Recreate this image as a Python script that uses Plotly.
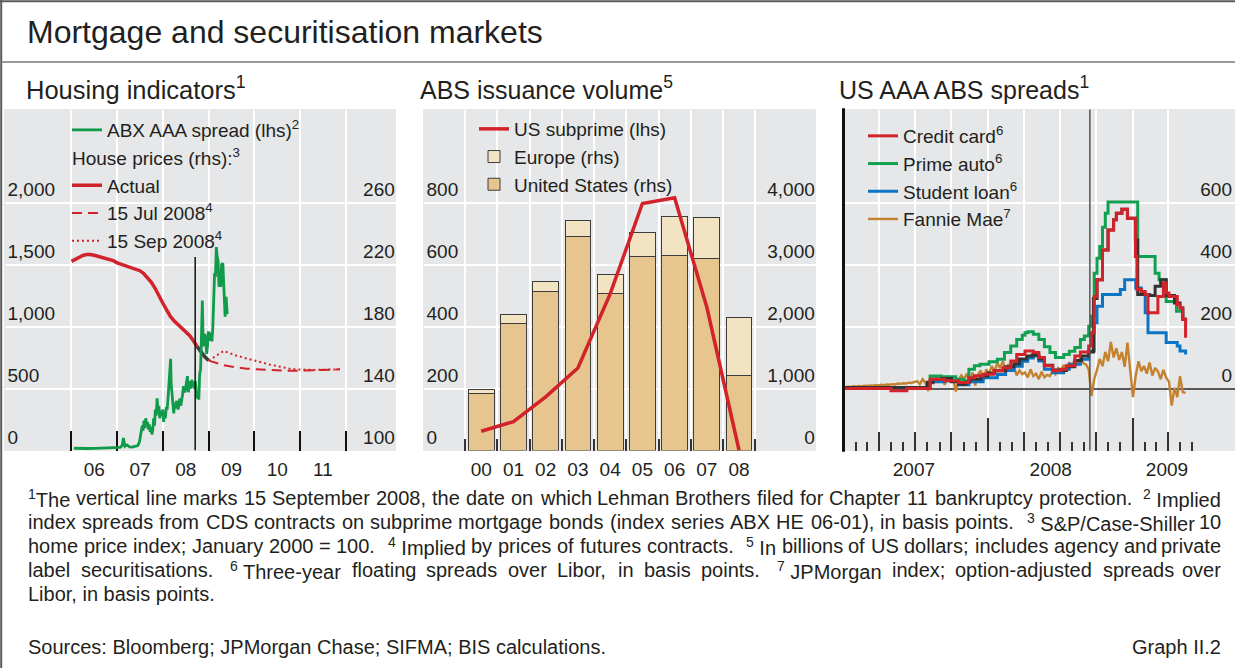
import plotly.graph_objects as go
import pandas as pd

W, H = 1235, 668
FONT = "Liberation Sans"
TXT = "#231f20"
BG = "#e6e7e8"


def fx(p):
    return p / W


def fy(p):
    return 1 - p / H


# ---------------- Panel 1: Housing indicators ----------------
abx_dates = [
    "2006-01-20", "2006-03-01", "2006-05-01", "2006-07-01", "2006-09-01", "2006-11-01",
    "2007-01-02", "2007-01-25", "2007-02-10", "2007-02-20", "2007-02-27", "2007-03-05",
    "2007-03-20", "2007-04-10", "2007-05-01", "2007-05-25", "2007-06-15", "2007-06-28",
    "2007-07-05", "2007-07-12", "2007-07-20", "2007-07-27", "2007-08-03", "2007-08-10",
    "2007-08-17", "2007-08-24", "2007-08-31", "2007-09-07", "2007-09-14", "2007-09-21",
    "2007-09-28", "2007-10-05", "2007-10-12", "2007-10-19", "2007-10-26", "2007-11-02",
    "2007-11-09", "2007-11-16", "2007-11-23", "2007-11-30", "2007-12-07", "2007-12-14",
    "2007-12-21", "2007-12-31", "2008-01-07", "2008-01-14", "2008-01-21", "2008-01-28",
    "2008-02-04", "2008-02-11", "2008-02-18", "2008-02-25", "2008-03-03", "2008-03-07",
    "2008-03-14", "2008-03-21", "2008-03-28", "2008-04-04", "2008-04-11", "2008-04-18",
    "2008-04-25", "2008-05-02", "2008-05-09", "2008-05-16", "2008-05-23", "2008-05-30",
    "2008-06-06", "2008-06-13", "2008-06-20", "2008-06-27", "2008-07-04", "2008-07-11",
    "2008-07-15", "2008-07-22", "2008-07-29", "2008-08-05", "2008-08-12", "2008-08-19",
    "2008-08-26", "2008-09-02", "2008-09-09", "2008-09-16", "2008-09-23", "2008-09-30",
    "2008-10-07", "2008-10-14", "2008-10-21", "2008-10-28", "2008-11-04", "2008-11-11",
    "2008-11-18", "2008-11-25", "2008-12-02", "2008-12-09", "2008-12-16", "2008-12-23",
    "2008-12-30", "2009-01-06", "2009-01-13", "2009-01-20", "2009-01-27", "2009-02-03",
    "2009-02-10", "2009-02-17", "2009-02-24", "2009-03-03", "2009-03-10", "2009-03-17",
    "2009-03-24", "2009-03-31", "2009-04-07", "2009-04-14", "2009-04-24", "2009-05-05",
    "2009-05-12", "2009-05-20", "2009-05-29",
]
abx_values = [
    18, 15, 16, 17, 18, 18,
    20, 25, 40, 100, 60, 35,
    45, 30, 28, 35, 40, 70,
    110, 150, 200, 160, 240, 180,
    260, 200, 230, 170, 210, 150,
    190, 130, 160, 260, 200, 330,
    280, 420, 300, 360, 260, 320,
    280, 330, 230, 300, 260, 350,
    330, 420, 520, 600, 740, 540,
    450, 330, 300, 380, 340, 400,
    350, 330, 380, 420, 360, 400,
    450, 520, 470, 480, 520, 560,
    600, 470, 520, 560, 500, 570,
    520, 540, 500, 560, 480, 420,
    460, 410, 620, 650, 900, 1210,
    840, 900, 940, 880, 780, 850,
    960, 900, 890, 950, 880, 1000,
    1200, 1430, 1400, 1640, 1560, 1530,
    1320, 1450, 1320, 1500, 1510, 1210,
    1080, 1240, 1100,
]
hp_actual = [
    222.0, 223.5, 224.8, 225.8, 226.4, 226.5, 226.0, 225.4, 224.8, 224.2, 223.6, 222.5,
    221.1, 220.3, 219.5, 218.9, 218.0, 217.2, 216.0, 214.2, 211.5, 208.5, 204.5, 199.5,
    195.0, 190.5, 186.5, 183.5, 181.2, 179.5, 177.0, 174.2, 170.8, 167.0, 163.5, 160.5,
    158.0,
]
hp_dates = pd.date_range("2006-01-01", periods=len(hp_actual), freq="MS")
hp_dark_from = 33  # last months of the actual series are drawn darker in the original
fut_dates = ["2009-01-01", "2009-05-01", "2009-08-01", "2009-11-01",
             "2010-05-01", "2010-11-01", "2011-05-01", "2011-11-15"]
fut_jul08 = [158.0, 155.0, 153.8, 152.8, 152.0, 151.4, 151.8, 152.4]
fut_sep08 = [158.0, 164.2, 161.5, 159.3, 155.5, 152.4, 152.0, 152.4]
lehman_date = "2008-09-15"
lehman_top_p1 = 1560

p1_label_pos = ["2006-07-02", "2007-07-02", "2008-07-02", "2009-07-02", "2010-07-02", "2011-07-02"]
p1_labels = ["06", "07", "08", "09", "10", "11"]
p1_year_ticks = ["2006-01-01", "2007-01-01", "2008-01-01", "2009-01-01",
                 "2010-01-01", "2011-01-01", "2012-01-01"]
p1_lhs_ticks = [0, 500, 1000, 1500, 2000]
p1_rhs_ticks = [100, 140, 180, 220, 260]

# ---------------- Panel 2: ABS issuance volume ----------------
p2_years = ["00", "01", "02", "03", "04", "05", "06", "07", "08"]
us_subprime = [62, 93, 173, 266, 505, 797, 815, 462, 0]
abs_us = [920, 2044, 2568, 3451, 2525, 3135, 3146, 3093, 1204]
abs_europe = [70, 144, 161, 262, 316, 385, 626, 658, 942]
p2_lhs_ticks = [0, 200, 400, 600, 800]
p2_rhs_ticks = [0, 1000, 2000, 3000, 4000]

# ---------------- Panel 3: US AAA ABS spreads ----------------
cc_dates = ["2007-01-01", "2007-05-01", "2007-06-10", "2007-08-08", "2007-09-14", "2007-10-19",
            "2007-11-14", "2007-11-28", "2007-12-20", "2008-01-16", "2008-02-08", "2008-02-28",
            "2008-03-14", "2008-04-04", "2008-04-25", "2008-05-09", "2008-05-23", "2008-06-13",
            "2008-07-04", "2008-07-18", "2008-08-08", "2008-08-22", "2008-09-12", "2008-09-19",
            "2008-09-26", "2008-10-03", "2008-10-17", "2008-10-31", "2008-11-14", "2008-11-21",
            "2008-12-05", "2008-12-19", "2009-01-08", "2009-01-12", "2009-01-23", "2009-02-02",
            "2009-02-09", "2009-03-06", "2009-03-20", "2009-03-27", "2009-04-03", "2009-04-24",
            "2009-05-01", "2009-05-08", "2009-05-15"]
credit_card = [0, -7, 0, 30, 25, 19,
               35, 41, 46, 57, 67, 89,
               110, 121, 116, 100, 73, 57,
               62, 73, 105, 118, 137, 180,
               297, 351, 447, 511, 544, 565,
               578, 549, 426, 319, 313, 303,
               244, 297, 340, 308, 297, 271,
               260, 223, 164]

pa_dates = ["2007-01-01", "2007-08-08", "2007-09-05", "2007-10-12", "2007-10-31", "2007-11-14",
            "2007-11-28", "2007-12-12", "2008-01-04", "2008-01-25", "2008-02-12", "2008-02-28",
            "2008-03-14", "2008-03-28", "2008-04-04", "2008-04-11", "2008-04-25", "2008-05-09",
            "2008-05-23", "2008-06-06", "2008-06-20", "2008-07-11", "2008-07-25", "2008-08-08",
            "2008-08-22", "2008-09-01", "2008-09-12", "2008-09-19", "2008-09-26", "2008-10-03",
            "2008-10-10", "2008-10-17", "2008-10-24", "2008-10-31", "2009-01-14", "2009-02-27",
            "2009-03-09", "2009-03-27", "2009-04-22", "2009-05-08", "2009-05-15"]
prime_auto = [3, 40, 38, 30, 25, 62,
              73, 78, 86, 94, 116, 137,
              158, 172, 180, 183, 175, 158,
              135, 116, 100, 110, 120, 132,
              158, 169, 201, 233, 372, 420,
              458, 520, 565, 602, 426, 372,
              351, 281, 249, 223, 223]

sl_dates = ["2007-01-01", "2007-08-08", "2007-09-14", "2007-10-19", "2007-11-14", "2007-12-20",
            "2008-01-25", "2008-02-15", "2008-03-07", "2008-03-28", "2008-04-11", "2008-04-25",
            "2008-05-09", "2008-05-23", "2008-06-13", "2008-07-11", "2008-07-25", "2008-08-22",
            "2008-09-12", "2008-09-26", "2008-10-03", "2008-10-17", "2008-12-01", "2008-12-12",
            "2009-01-09", "2009-01-23", "2009-02-02", "2009-02-09", "2009-03-27", "2009-04-24",
            "2009-05-01", "2009-05-15"]
student_loan = [0, 22, 25, 12, 22, 35,
                45, 58, 72, 88, 98, 105,
                89, 62, 51, 62, 78, 94,
                121, 212, 265, 303, 319, 351,
                324, 303, 244, 180, 148, 137,
                121, 110]

bk_dates = ["2007-01-01", "2007-07-25", "2007-08-01", "2007-08-15", "2007-09-07", "2007-10-01",
            "2007-10-19", "2007-11-07", "2007-11-16", "2007-12-14", "2008-01-01", "2008-01-18",
            "2008-02-15", "2008-03-07", "2008-03-21", "2008-04-08", "2008-04-22", "2008-05-09",
            "2008-05-23", "2008-06-13", "2008-07-01", "2008-07-18", "2008-08-08", "2008-08-25",
            "2008-09-12", "2008-09-24", "2008-10-03", "2008-10-17", "2008-10-31", "2008-11-14",
            "2008-11-21", "2008-12-05", "2008-12-19", "2009-01-08", "2009-01-14", "2009-02-13",
            "2009-02-27", "2009-03-13", "2009-03-27", "2009-04-17", "2009-05-01", "2009-05-08",
            "2009-05-15"]
other_abs = [3, 3, 20, 30, 32, 22,
             14, 20, 30, 40, 50, 57,
             70, 80, 95, 105, 108, 95,
             75, 60, 58, 70, 90, 105,
             118, 290, 351, 447, 511, 544,
             565, 578, 549, 479, 303, 300,
             330, 351, 300, 276, 260, 223,
             215]

fannie_mae = [
    4, 6, 5, 7, 6, 8, 7, 9, 8, 10, 9, 11, 10, 12, 11, 13, 12, 14, 13, 16, 15,
    17, 16, 19, 18, 21, 24, 14, 30, 18, -8, 32, 15, 36, 22, 30, 12, 38, 20,
    34, -10, 28, 42, 30, 48, 18, 52, 10, 45, 58, 28, 62,
    48, 72, 55, 82, 66, 88, 58, 78, 62, 70, 42, 58, 46, 52, 36, 62, 40,
    48, 30, 54, 36, 44, 40, 58, 46, 66, 58, 76, 62, 84, 72, 94, 78, 96, 82,
    78, 62, -24, 30, 60, 95, 72, 118, 88, 150, 100, 130, 92, 118, 70, 148, 60,
    -28, 42, 88, 56, 72, 48, 84, 42, 66, 55, 30, 60, 35, 22, -55, 2, -28,
    40, -12, -14,
]
fannie_dates = pd.date_range("2007-01-05", periods=len(fannie_mae), freq="7D")

p3_label_pos = ["2007-06-28", "2008-06-08", "2009-03-29"]
p3_labels = ["2007", "2008", "2009"]
p3_quarters = ["2007-04-01", "2007-07-01", "2007-10-01", "2008-01-01", "2008-04-01",
               "2008-07-01", "2008-10-01", "2009-01-01", "2009-04-01"]
p3_years = ["2008-01-01", "2009-01-01"]
p3_months = [d.strftime("%Y-%m-%d") for d in pd.date_range("2007-02-01", "2009-06-01", freq="MS")]
p3_ticks = [0, 200, 400, 600]

# ---------------- Footnotes (justified lines; "|" marks a footnote break) ----------------
footnote_lines = [
    "^1The vertical line marks 15 September 2008, the date on which Lehman Brothers filed for Chapter 11 bankruptcy protection. | ^2 Implied",
    "index spreads from CDS contracts on subprime mortgage bonds (index series ABX HE 06-01), in basis points. | ^3 S&P/Case-Shiller 10",
    "home price index; January 2000 = 100. | ^4 Implied by prices of futures contracts. | ^5 In billions of US dollars; includes agency and private",
    "label securitisations. | ^6 Three-year floating spreads over Libor, in basis points. | ^7 JPMorgan index; option-adjusted spreads over",
]
footnote_last = "Libor, in basis points."
sources = "Sources: Bloomberg; JPMorgan Chase; SIFMA; BIS calculations."
graph_no = "Graph II.2"

# ---------------- geometry (px) ----------------
P_TOP, P_BOT = 109.5, 450.5
p1_x = (4.5, 395.5)
p2_x = (423.5, 815.5)
p3_x = (843.5, 1235)
ydom = [fy(P_BOT), fy(P_TOP)]

fig = go.Figure()

# Panel 1 traces
fig.add_trace(go.Scatter(x=abx_dates, y=abx_values, mode="lines", name="ABX AAA spread (lhs)<sup>2</sup>",
                         line=dict(color="#0f9b4a", width=2.8), xaxis="x", yaxis="y2",
                         legend="legend", legendgroup="abx", legendrank=1))
fig.add_trace(go.Scatter(x=hp_dates[:hp_dark_from + 1], y=hp_actual[:hp_dark_from + 1], mode="lines",
                         name="Actual",
                         line=dict(color="#d2232a", width=3.5), xaxis="x", yaxis="y",
                         legend="legend", legendgroup="hp", legendrank=2,
                         legendgrouptitle=dict(text="House prices (rhs):<sup>3</sup>",
                                               font=dict(size=19, color=TXT, family=FONT))))
fig.add_trace(go.Scatter(x=hp_dates[hp_dark_from:], y=hp_actual[hp_dark_from:], mode="lines",
                         showlegend=False, line=dict(color="#3a3a3a", width=3.5),
                         xaxis="x", yaxis="y"))
fig.add_trace(go.Scatter(x=fut_dates, y=fut_jul08, mode="lines", name="15 Jul 2008<sup>4</sup>",
                         line=dict(color="#d2232a", width=2, dash="10px,6px"), xaxis="x", yaxis="y",
                         legend="legend", legendgroup="hp", legendrank=3))
fig.add_trace(go.Scatter(x=fut_dates, y=fut_sep08, mode="lines", name="15 Sep 2008<sup>4</sup>",
                         line=dict(color="#d2232a", width=2, dash="2px,3px"), xaxis="x", yaxis="y",
                         legend="legend", legendgroup="hp", legendrank=4))

# Panel 2 traces
fig.add_trace(go.Bar(x=p2_years, y=abs_us, name="United States (rhs)", width=0.8,
                     marker=dict(color="#e6c58e", line=dict(color="#3c3c3c", width=1)),
                     xaxis="x2", yaxis="y3", legend="legend2", legendrank=3))
fig.add_trace(go.Bar(x=p2_years, y=abs_europe, name="Europe (rhs)", width=0.8,
                     marker=dict(color="#f2e3c2", line=dict(color="#3c3c3c", width=1)),
                     xaxis="x2", yaxis="y3", legend="legend2", legendrank=2))
fig.add_trace(go.Scatter(x=p2_years, y=us_subprime, mode="lines", name="US subprime (lhs)",
                         line=dict(color="#d2232a", width=3.5), xaxis="x2", yaxis="y4",
                         legend="legend2", legendrank=1))

# Panel 3 traces
fig.add_trace(go.Scatter(x=bk_dates, y=other_abs, mode="lines", line_shape="hv", showlegend=False,
                         line=dict(color="#333333", width=3), xaxis="x3", yaxis="y5", zorder=4))
fig.add_trace(go.Scatter(x=fannie_dates, y=fannie_mae, mode="lines", name="Fannie Mae<sup>7</sup>",
                         line=dict(color="#c4822f", width=2.4), xaxis="x3", yaxis="y5",
                         legend="legend3", legendrank=4, zorder=1))
fig.add_trace(go.Scatter(x=sl_dates, y=student_loan, mode="lines", line_shape="hv",
                         name="Student loan<sup>6</sup>", line=dict(color="#0b74c4", width=3),
                         xaxis="x3", yaxis="y5", legend="legend3", legendrank=3, zorder=2))
fig.add_trace(go.Scatter(x=pa_dates, y=prime_auto, mode="lines", line_shape="hv",
                         name="Prime auto<sup>6</sup>", line=dict(color="#10a050", width=3),
                         xaxis="x3", yaxis="y5", legend="legend3", legendrank=2, zorder=3))
fig.add_trace(go.Scatter(x=cc_dates, y=credit_card, mode="lines", line_shape="hv",
                         name="Credit card<sup>6</sup>", line=dict(color="#d2232a", width=3),
                         xaxis="x3", yaxis="y5", legend="legend3", legendrank=1, zorder=5))
# carrier for the year-tick overlay axis (no data)
fig.add_trace(go.Scatter(x=[], y=[], xaxis="x4", yaxis="y5", showlegend=False))

tick_font = dict(family=FONT, size=19, color=TXT)
frame = dict(showline=True, linewidth=3, linecolor="#111111", mirror=True)
leg_font = dict(family=FONT, size=19, color=TXT)

fig.update_layout(
    width=W, height=H,
    margin=dict(l=0, r=0, t=0, b=0),
    paper_bgcolor="white", plot_bgcolor=BG,
    font=dict(family=FONT, size=19, color=TXT),
    showlegend=True,
    # ---- panel 1 axes
    xaxis=dict(domain=[fx(p1_x[0]), fx(p1_x[1])], anchor="y", type="date",
               range=["2004-07-15", "2013-02-01"],
               tickmode="array", tickvals=p1_label_pos, ticktext=p1_labels, ticks="",
               tickfont=tick_font, showgrid=False, zeroline=False,
               minor=dict(tickmode="array", tickvals=p1_year_ticks, ticks="inside", ticklen=20,
                          tickwidth=2, tickcolor="#111111", showgrid=True, gridcolor="white",
                          gridwidth=1.5),
               **frame),
    yaxis=dict(domain=ydom, anchor="x", side="right", range=[100, 320],
               tickmode="array", tickvals=p1_rhs_ticks, ticklabelposition="inside top",
               tickfont=tick_font, ticks="", showgrid=True, gridcolor="white", gridwidth=1.5,
               zeroline=False, **frame),
    yaxis2=dict(overlaying="y", anchor="x", side="left", range=[0, 2750],
                tickmode="array", tickvals=p1_lhs_ticks, tickformat=",",
                ticklabelposition="inside top", tickfont=tick_font, ticks="",
                showgrid=False, zeroline=False, showline=False),
    # ---- panel 2 axes
    xaxis2=dict(domain=[fx(p2_x[0]), fx(p2_x[1])], anchor="y3", type="category",
                range=[-1.79, 10.37], tickson="boundaries", ticks="inside", ticklen=12,
                tickwidth=1.5, tickcolor="#333333", tickfont=tick_font,
                showgrid=True, gridcolor="white", gridwidth=1.5, **frame),
    yaxis3=dict(domain=ydom, anchor="x2", side="right", range=[0, 5500],
                tickmode="array", tickvals=p2_rhs_ticks, tickformat=",",
                ticklabelposition="inside top", tickfont=tick_font, ticks="",
                showgrid=True, gridcolor="white", gridwidth=1.5, zeroline=False, **frame),
    yaxis4=dict(overlaying="y3", anchor="x2", side="left", range=[0, 1100],
                tickmode="array", tickvals=p2_lhs_ticks, ticklabelposition="inside top",
                tickfont=tick_font, ticks="", showgrid=False, zeroline=False, showline=False),
    barmode="stack",
    # ---- panel 3 axes
    xaxis3=dict(domain=[fx(p3_x[0]), 1.0], anchor="y5", type="date",
                range=["2007-01-01", "2009-09-17"],
                tickmode="array", tickvals=p3_label_pos, ticktext=p3_labels, ticks="",
                tickfont=tick_font, showgrid=False, zeroline=False,
                minor=dict(tickmode="array", tickvals=p3_quarters, ticks="inside", ticklen=19,
                           tickwidth=1.5, tickcolor="#333333", showgrid=True, gridcolor="white",
                           gridwidth=1.5),
                showline=True, linewidth=3, linecolor="#111111", mirror=True),
    xaxis4=dict(overlaying="x3", anchor="y5", type="date", range=["2007-01-01", "2009-09-17"],
                tickmode="array", tickvals=p3_years, ticks="inside", ticklen=33, tickwidth=1.5,
                tickcolor="#333333", showticklabels=False, showgrid=False, zeroline=False,
                showline=False,
                minor=dict(tickmode="array", tickvals=p3_months, ticks="inside", ticklen=9,
                           tickwidth=1.5, tickcolor="#333333", showgrid=False)),
    yaxis5=dict(domain=ydom, anchor="x3", side="right", range=[-200, 900],
                tickmode="array", tickvals=p3_ticks, ticklabelposition="inside top",
                tickfont=tick_font, ticks="", showgrid=True, gridcolor="white", gridwidth=1.5,
                zeroline=True, zerolinecolor="#5a5a5a", zerolinewidth=1.5, showline=False),
    # ---- legends
    legend=dict(x=fx(67), y=fy(111), xanchor="left", yanchor="top", bgcolor="rgba(0,0,0,0)",
                borderwidth=0, font=leg_font, traceorder="grouped", tracegroupgap=0, itemwidth=30),
    legend2=dict(x=fx(474), y=fy(110), xanchor="left", yanchor="top", bgcolor="rgba(0,0,0,0)",
                 borderwidth=0, font=leg_font, traceorder="normal", itemwidth=30),
    legend3=dict(x=fx(863), y=fy(117), xanchor="left", yanchor="top", bgcolor="rgba(0,0,0,0)",
                 borderwidth=0, font=leg_font, traceorder="normal", itemwidth=30),
)

shapes = [
    # Lehman lines
    dict(type="line", xref="x", yref="y2", x0=lehman_date, x1=lehman_date, y0=0, y1=lehman_top_p1,
         line=dict(color="#111111", width=1.5), layer="above"),
    dict(type="line", xref="x3", yref="y5 domain", x0=lehman_date, x1=lehman_date, y0=0, y1=1,
         line=dict(color="#555555", width=1.5), layer="above"),
    # panel 3 left frame edge
    dict(type="line", xref="x3 domain", yref="y5 domain", x0=0, x1=0, y0=-0.004, y1=1.004,
         line=dict(color="#111111", width=3), layer="above"),
    # outer border and rule
    dict(type="line", xref="paper", yref="paper", x0=fx(1.2), x1=fx(1.2), y0=0, y1=1,
         line=dict(color="#5a5a5a", width=2)),
    dict(type="line", xref="paper", yref="paper", x0=0, x1=1, y0=fy(1.2), y1=fy(1.2),
         line=dict(color="#5a5a5a", width=2)),
    dict(type="line", xref="paper", yref="paper", x0=0, x1=1, y0=fy(62), y1=fy(62),
         line=dict(color="#7a7a7a", width=1.5)),
]
fig.update_layout(shapes=shapes)


def ann(text, x, y, size, xanchor="left"):
    return dict(text=text, x=fx(x), y=fy(y), xref="paper", yref="paper", showarrow=False,
                xanchor=xanchor, yanchor="middle", borderpad=0,
                font=dict(family=FONT, size=size, color=TXT))


# Arial / Liberation Sans advance widths (per 1000 em) for laying out justified footnotes
_AW = {" ": 278, ",": 278, "-": 333, ".": 278, "/": 278, ":": 278, ";": 278, "=": 584,
       "(": 333, ")": 333, "&": 667}
_AW.update({c: 556 for c in "0123456789"})
_AW.update(dict(zip("ABCDEFGHIJKLMNOPQRSTUVWXYZ",
                    [667, 667, 722, 722, 667, 611, 778, 722, 278, 500, 667, 556, 833, 722, 778,
                     667, 778, 722, 667, 611, 722, 667, 944, 667, 667, 611])))
_AW.update(dict(zip("abcdefghijklmnopqrstuvwxyz",
                    [556, 556, 500, 556, 556, 278, 556, 556, 222, 222, 500, 222, 833, 556, 556,
                     556, 556, 333, 500, 278, 556, 500, 722, 500, 500, 500])))


def word_width(word, size):
    w, i = 0.0, 0
    while i < len(word):
        if word[i] == "^":
            w += 0.7 * _AW["1"]
            i += 2
            continue
        w += _AW.get(word[i], 556)
        i += 1
    return w * size / 1000.0


def markup(word):
    out, i = "", 0
    while i < len(word):
        if word[i] == "^":
            out += "<sup>" + word[i + 1] + "</sup>"
            i += 2
        else:
            out += word[i]
            i += 1
    return out.replace("&", "&amp;")


FN_SIZE = 20
FN_LEFT, FN_RIGHT = 27, 1222
annotations = [
    ann("Mortgage and securitisation markets", 26, 32, 32),
    ann("Housing indicators<sup>1</sup>", 25, 88, 25.5),
    ann("ABS issuance volume<sup>5</sup>", 419, 88, 25),
    ann("US AAA ABS spreads<sup>1</sup>", 838, 88, 25),
]
line_y = [498, 522, 546, 570]
space = _AW[" "] * FN_SIZE / 1000.0
for line, yy in zip(footnote_lines, line_y):
    toks = line.split(" ")
    merged, i = [], 0
    while i < len(toks):
        t = toks[i]
        if len(t) == 2 and t[0] == "^" and i + 1 < len(toks):
            merged.append(t + " " + toks[i + 1])
            i += 2
        else:
            merged.append(t)
            i += 1
    words, gaps, pending = [], [], False
    for t in merged:
        if t == "|":
            pending = True
            continue
        if words:
            gaps.append(2.2 * space if pending else space)
        pending = False
        words.append(t)
    natural = sum(word_width(w, FN_SIZE) for w in words) + sum(gaps)
    extra = (FN_RIGHT - FN_LEFT - natural) / max(1, len(gaps))
    xpos = FN_LEFT
    for k, w in enumerate(words):
        if k == len(words) - 1:
            annotations.append(ann(markup(w), FN_RIGHT, yy, FN_SIZE, "right"))
        else:
            annotations.append(ann(markup(w), xpos, yy, FN_SIZE))
            xpos += word_width(w, FN_SIZE) + gaps[k] + extra
annotations += [
    ann(footnote_last, FN_LEFT, 594, FN_SIZE),
    ann(sources, FN_LEFT, 647, FN_SIZE),
    ann(graph_no, FN_RIGHT, 647, FN_SIZE, "right"),
]
fig.update_layout(annotations=annotations)

fig.write_html(
    "out.html",
    config={"displayModeBar": False},
    post_script="document.body.style.margin='0';document.body.style.overflow='hidden';",
)
